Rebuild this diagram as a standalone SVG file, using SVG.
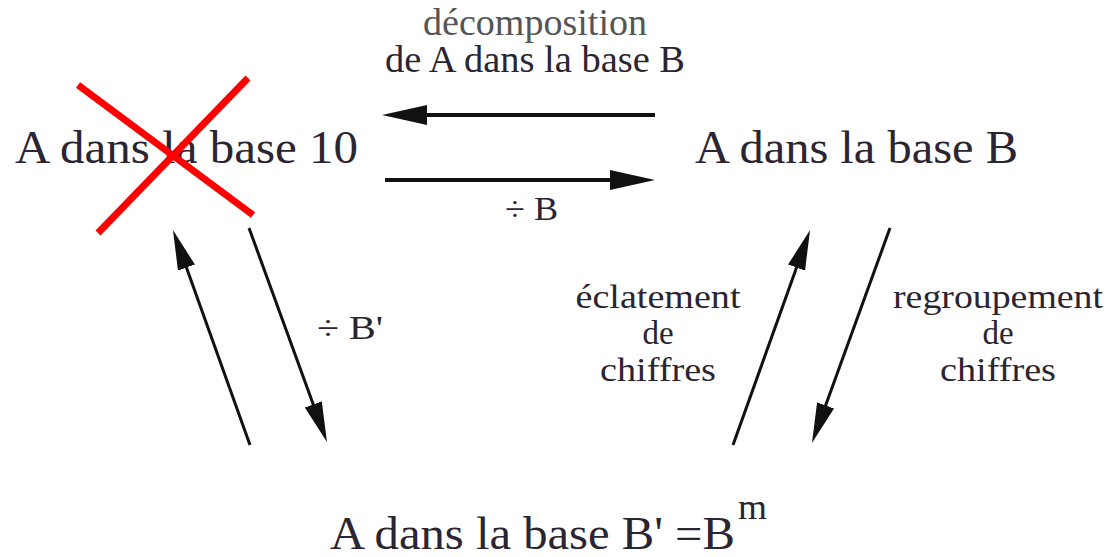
<svg xmlns="http://www.w3.org/2000/svg" width="1110" height="557" viewBox="0 0 1110 557">
<style>
text{font-family:"Liberation Serif","DejaVu Serif","Noto Serif","Times New Roman",Times,serif;fill:#2a2530}
.big{font-size:47px}
.mid{font-size:37px}
.lbl{font-size:33px;text-anchor:middle}
.h{stroke:#111;stroke-width:4;fill:none}
.d{stroke:#111;stroke-width:3;fill:none}
.x{stroke:#ff0000;stroke-width:7}
</style>
<defs>
<marker id="ah" markerUnits="userSpaceOnUse" markerWidth="46" markerHeight="22" refX="15" refY="10" orient="auto">
<path d="M0,0 L45,10 L0,20 Z" fill="#111"/>
</marker>
<marker id="ad" markerUnits="userSpaceOnUse" markerWidth="42" markerHeight="20" refX="12" refY="9" orient="auto">
<path d="M0,0 L40,9 L0,18 Z" fill="#111"/>
</marker>
</defs>
<rect width="1110" height="557" fill="#fff"/>
<g id="base10">
<text class="big" x="15" y="163" textLength="343" lengthAdjust="spacingAndGlyphs">A dans la base 10</text>
<line class="x" x1="78" y1="85" x2="253" y2="215"/>
<line class="x" x1="98" y1="233" x2="248" y2="78"/>
</g>
<g id="baseB">
<text class="big" x="695" y="163" textLength="323" lengthAdjust="spacingAndGlyphs">A dans la base B</text>
</g>
<g id="baseBp">
<text class="big" x="330" y="549" textLength="405" lengthAdjust="spacingAndGlyphs">A dans la base B' =B</text>
<text x="738" y="519" style="font-size:36px" textLength="29" lengthAdjust="spacingAndGlyphs">m</text>
</g>
<g id="connectors">
<line class="h" x1="655" y1="115" x2="412" y2="115" marker-end="url(#ah)"/>
<line class="h" x1="385" y1="180" x2="625" y2="180" marker-end="url(#ah)"/>
<line class="d" x1="250" y1="445" x2="182.4" y2="256.3" marker-end="url(#ad)"/>
<line class="d" x1="249" y1="228" x2="317.4" y2="415.7" marker-end="url(#ad)"/>
<line class="d" x1="733" y1="445" x2="800.6" y2="256.3" marker-end="url(#ad)"/>
<line class="d" x1="890" y1="228" x2="821.5" y2="416.7" marker-end="url(#ad)"/>
<text class="mid" x="423" y="35" style="fill:#555" textLength="224" lengthAdjust="spacingAndGlyphs">décomposition</text>
<text class="mid" x="385" y="72" textLength="300" lengthAdjust="spacingAndGlyphs">de A dans la base B</text>
<text x="505" y="220" style="font-size:34px" textLength="53" lengthAdjust="spacingAndGlyphs">÷ B</text>
<text x="317" y="339" style="font-size:34px" textLength="66" lengthAdjust="spacingAndGlyphs">÷ B'</text>
<text class="lbl" x="658" y="308" textLength="165" lengthAdjust="spacingAndGlyphs">éclatement</text>
<text class="lbl" x="658" y="344">de</text>
<text class="lbl" x="658" y="381" textLength="116" lengthAdjust="spacingAndGlyphs">chiffres</text>
<text class="lbl" x="998" y="308" textLength="210" lengthAdjust="spacingAndGlyphs">regroupement</text>
<text class="lbl" x="998" y="344">de</text>
<text class="lbl" x="998" y="381" textLength="116" lengthAdjust="spacingAndGlyphs">chiffres</text>
</g>
</svg>
